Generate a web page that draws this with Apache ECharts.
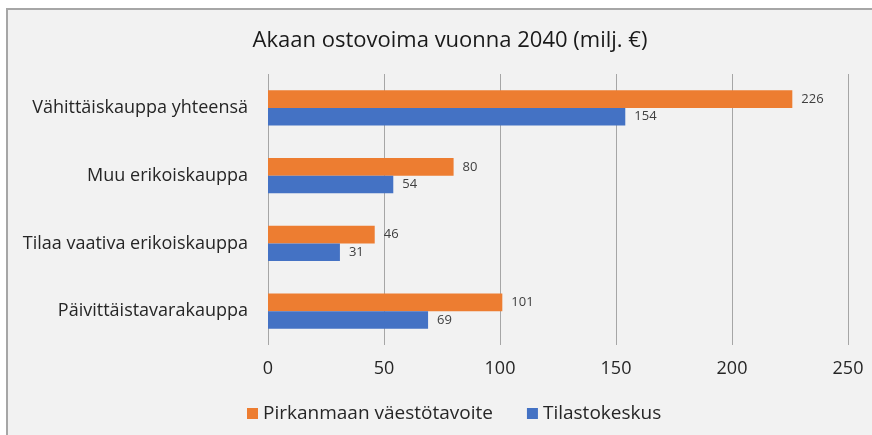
<!DOCTYPE html>
<html>
<head>
<meta charset="utf-8">
<script src="https://cdn.jsdelivr.net/npm/echarts@6/dist/echarts.min.js"></script>
<style>
  html, body { margin: 0; padding: 0; background: #fff; }
  #chart { width: 872px; height: 435px; }
</style>
</head>
<body>
<div id="chart"></div>
<script>
  // y-axis categories, bottom to top
  var categories = ['Päivittäistavarakauppa', 'Tilaa vaativa erikoiskauppa', 'Muu erikoiskauppa', 'Vähittäiskauppa yhteensä'];
  var pirkanmaa = [101, 46, 80, 226];
  var tilastokeskus = [69, 31, 54, 154];
  var xTicks = [0, 50, 100, 150, 200, 250];

  var font = 'Open Sans, Noto Sans, sans-serif';
  var chart = echarts.init(document.getElementById('chart'));

  var option = {
    backgroundColor: '#ffffff',
    animation: false,
    graphic: [
      { type: 'rect', shape: { x: 6, y: 8, width: 866, height: 427 }, style: { fill: '#f2f2f2' }, z: -10 },
      { type: 'line', shape: { x1: 6, y1: 9, x2: 872, y2: 9 }, style: { stroke: '#a6a6a6', lineWidth: 2 }, z: -9 },
      { type: 'line', shape: { x1: 7, y1: 8, x2: 7, y2: 435 }, style: { stroke: '#a6a6a6', lineWidth: 2 }, z: -9 }
    ],
    title: {
      text: 'Akaan ostovoima vuonna 2040 (milj. €)',
      left: 445,
      textAlign: 'center',
      top: 25,
      textStyle: { fontFamily: font, fontSize: 22, fontWeight: 'normal', color: '#1a1a1a' }
    },
    legend: {
      data: ['Pirkanmaan väestötavoite', 'Tilastokeskus'],
      left: 242,
      bottom: 7,
      itemWidth: 11,
      itemHeight: 11,
      itemGap: 34,
      icon: 'rect',
      textStyle: { fontFamily: font, fontSize: 19, color: '#262626' }
    },
    grid: { left: 268, right: 24, top: 74, bottom: 90 },
    xAxis: {
      type: 'value',
      min: xTicks[0],
      max: xTicks[xTicks.length - 1],
      interval: 50,
      axisLine: { show: false },
      axisTick: { show: false },
      axisLabel: { fontFamily: font, fontSize: 18, color: '#262626', margin: 15 },
      splitLine: { lineStyle: { color: '#a6a6a6', width: 1 } }
    },
    yAxis: {
      type: 'category',
      data: categories,
      axisLine: { show: false },
      axisTick: { show: false },
      axisLabel: { fontFamily: font, fontSize: 18, color: '#262626', margin: 20 }
    },
    series: [
      {
        name: 'Pirkanmaan väestötavoite',
        type: 'bar',
        data: pirkanmaa,
        barGap: '0%',
        barCategoryGap: '48%',
        itemStyle: { color: '#ed7d31' },
        label: { show: true, position: 'right', distance: 9, fontFamily: font, fontSize: 13, color: '#404040' }
      },
      {
        name: 'Tilastokeskus',
        type: 'bar',
        data: tilastokeskus,
        barGap: '0%',
        barCategoryGap: '48%',
        itemStyle: { color: '#4472c4' },
        label: { show: true, position: 'right', distance: 9, fontFamily: font, fontSize: 13, color: '#404040' }
      }
    ]
  };

  chart.setOption(option);
</script>
</body>
</html>
